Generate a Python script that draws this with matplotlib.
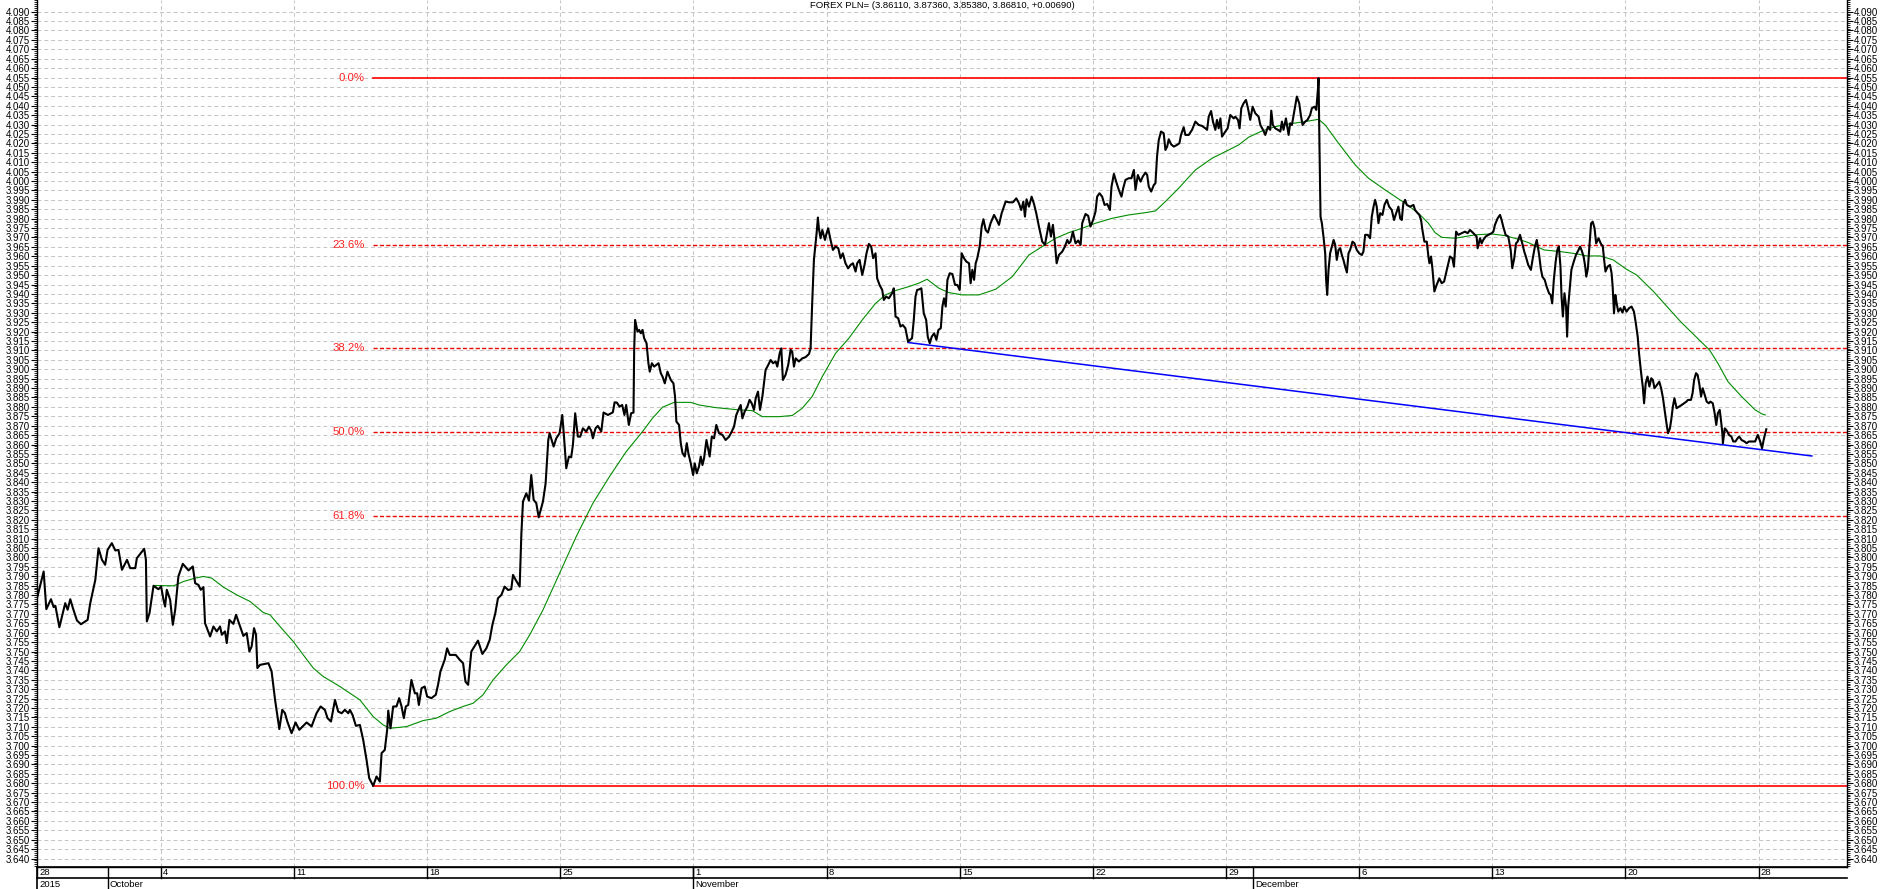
import numpy as np
import matplotlib
matplotlib.use("Agg")
import matplotlib.pyplot as plt
from matplotlib.ticker import MultipleLocator, FormatStrFormatter

plt.rcParams['font.family'] = ['Liberation Sans', 'DejaVu Sans']

# EUR/PLN style hourly closes.
# x = trading day counted from the Monday 28 Sep 2015 session (5 days per week)
seg_early_oct = [
    (0.35, 3.7783), (0.6, 3.7925), (0.7, 3.7725), (0.875, 3.7778), (0.975, 3.7736), (1.04, 3.7743),
    (1.19, 3.7629), (1.41, 3.7757), (1.5, 3.7722), (1.6, 3.7778), (1.7, 3.7730), (1.85, 3.7665),
    (2.0, 3.7645), (2.16, 3.7660), (2.25, 3.7668), (2.35, 3.7757), (2.54, 3.7881), (2.66, 3.8049),
    (2.79, 3.7987), (2.91, 3.7961), (3.0, 3.8040), (3.16, 3.8076), (3.29, 3.8037), (3.41, 3.8040),
    (3.54, 3.7934), (3.73, 3.7987), (3.85, 3.7943), (4.04, 3.7943), (4.1, 3.7996), (4.375, 3.8046),
    (4.44, 3.7987), (4.475, 3.7660), (4.575, 3.7704), (4.725, 3.7849), (4.91, 3.7831), (5.01, 3.7846),
    (5.1, 3.7775), (5.16, 3.7739), (5.225, 3.7828), (5.35, 3.7775), (5.45, 3.7642), (5.54, 3.7722),
    (5.66, 3.7899), (5.825, 3.7966), (6.04, 3.7931), (6.2, 3.7952), (6.29, 3.7863), (6.41, 3.7854),
    (6.5, 3.7828), (6.6, 3.7842), (6.66, 3.7651), (6.85, 3.7580), (6.975, 3.7633), (7.1, 3.7607),
    (7.225, 3.7633), (7.29, 3.7589), (7.41, 3.7607), (7.475, 3.7545), (7.575, 3.7668), (7.725, 3.7647),
    (7.825, 3.7695), (7.975, 3.7633), (8.1, 3.7583), (8.225, 3.7598), (8.325, 3.7500), (8.41, 3.7527),
    (8.5, 3.7624), (8.575, 3.7589), (8.625, 3.7412), (8.725, 3.7429), (9.04, 3.7438), (9.16, 3.7394),
    (9.29, 3.7243), (9.45, 3.7088), (9.56, 3.7190), (9.66, 3.7173), (9.75, 3.7128), (9.91, 3.7066),
    (10.06, 3.7123), (10.2, 3.7084), (10.475, 3.7123), (10.66, 3.7102), (10.85, 3.7173), (11.0, 3.7208),
    (11.16, 3.7190), (11.26, 3.7146), (11.39, 3.7128),
]
seg_late_oct = [
    (11.54, 3.7243), (11.66, 3.7181), (11.79, 3.7172), (11.91, 3.7190), (12.04, 3.7172), (12.1, 3.7190),
    (12.2, 3.7163), (12.325, 3.7105), (12.475, 3.7110), (12.6, 3.7030), (12.725, 3.6924), (12.825, 3.6827),
    (12.975, 3.6786), (13.1, 3.6836), (13.225, 3.6809), (13.29, 3.6960), (13.41, 3.6977), (13.5, 3.7084),
    (13.54, 3.7186), (13.625, 3.7092), (13.725, 3.7208), (13.85, 3.7208), (13.95, 3.7252), (14.04, 3.7208),
    (14.125, 3.7146), (14.2, 3.7208), (14.29, 3.7216), (14.41, 3.7349), (14.54, 3.7278), (14.625, 3.7278),
    (14.69, 3.7216), (14.79, 3.7305), (14.91, 3.7314), (15.0, 3.7261), (15.16, 3.7252), (15.325, 3.7270),
    (15.41, 3.7323), (15.5, 3.7394), (15.66, 3.7456), (15.75, 3.7517), (15.85, 3.7482), (16.075, 3.7482),
    (16.225, 3.7456), (16.35, 3.7438), (16.44, 3.7340), (16.54, 3.7323), (16.66, 3.7500), (16.91, 3.7558),
    (17.075, 3.7487), (17.225, 3.7517), (17.35, 3.7562), (17.45, 3.7641), (17.56, 3.7703), (17.66, 3.7783),
    (17.79, 3.7801), (17.91, 3.7845), (18.04, 3.7827), (18.16, 3.7831), (18.225, 3.7907), (18.325, 3.7881),
    (18.475, 3.7845), (18.54, 3.8128), (18.6, 3.8297), (18.725, 3.8341), (18.825, 3.8302), (18.91, 3.8438),
    (19.0, 3.8306), (19.1, 3.8288), (19.19, 3.8213), (19.35, 3.8297), (19.45, 3.8394), (19.55, 3.8624),
    (19.6, 3.8660), (19.75, 3.8589), (19.85, 3.8633), (19.975, 3.8660), (20.075, 3.8757), (20.14, 3.8642),
    (20.225, 3.8474), (20.325, 3.8536), (20.41, 3.8532), (20.475, 3.8598), (20.56, 3.8766), (20.66, 3.8642),
    (20.75, 3.8642), (20.85, 3.8686), (20.975, 3.8669), (21.075, 3.8695), (21.16, 3.8674), (21.225, 3.8633),
    (21.325, 3.8686), (21.41, 3.8699), (21.54, 3.8669), (21.625, 3.8770), (21.79, 3.8757), (21.975, 3.8771),
    (22.04, 3.8824), (22.125, 3.8823), (22.225, 3.8801), (22.325, 3.8810), (22.41, 3.8757), (22.475, 3.8810),
    (22.575, 3.8704), (22.66, 3.8766), (22.75, 3.8770),
]
seg_nov_a = [
    (22.775, 3.9103), (22.81, 3.9262), (22.9, 3.9200), (22.96, 3.9209), (23.025, 3.9191), (23.09, 3.9209),
    (23.15, 3.9165), (23.24, 3.9138), (23.31, 3.9032), (23.36, 3.8987), (23.44, 3.9032), (23.525, 3.9014),
    (23.61, 3.9023), (23.69, 3.9032), (23.775, 3.8979), (23.84, 3.8961), (23.925, 3.8925), (24.025, 3.8987),
    (24.15, 3.8943), (24.25, 3.8925), (24.31, 3.8855), (24.36, 3.8722), (24.46, 3.8704), (24.525, 3.8607),
    (24.59, 3.8554), (24.675, 3.8536), (24.75, 3.8607), (24.81, 3.8554), (24.9, 3.8500), (24.99, 3.8438),
    (25.05, 3.8500), (25.125, 3.8447), (25.21, 3.8483), (25.275, 3.8536), (25.34, 3.8491), (25.4, 3.8527),
    (25.49, 3.8624), (25.56, 3.8571), (25.61, 3.8536), (25.69, 3.8642), (25.775, 3.8633), (25.86, 3.8704),
    (25.96, 3.8660), (26.09, 3.8651), (26.21, 3.8624), (26.34, 3.8642), (26.44, 3.8669), (26.525, 3.8695),
    (26.61, 3.8757), (26.69, 3.8784), (26.775, 3.8810), (26.84, 3.8739), (26.925, 3.8775), (27.025, 3.8801),
    (27.11, 3.8837), (27.19, 3.8819), (27.275, 3.8784), (27.34, 3.8846), (27.425, 3.8881), (27.5, 3.8784),
    (27.59, 3.8855), (27.65, 3.8925), (27.71, 3.8996), (27.81, 3.9023), (27.9, 3.9049), (27.99, 3.9032),
    (28.09, 3.9041), (28.15, 3.9014), (28.24, 3.9085), (28.3, 3.9111), (28.36, 3.8943), (28.46, 3.8970),
    (28.56, 3.9023), (28.65, 3.9103), (28.71, 3.9094), (28.775, 3.9014), (28.84, 3.9058), (28.96, 3.9041),
    (29.09, 3.9058), (29.21, 3.9064), (29.34, 3.9081), (29.4, 3.9111), (29.46, 3.9350), (29.525, 3.9581),
    (29.59, 3.9669), (29.625, 3.9722), (29.675, 3.9806), (29.71, 3.9749), (29.775, 3.9696), (29.84, 3.9740),
    (29.94, 3.9687), (30.0, 3.9722), (30.06, 3.9749), (30.15, 3.9687), (30.24, 3.9634), (30.34, 3.9652),
    (30.44, 3.9643), (30.525, 3.9590), (30.61, 3.9616), (30.71, 3.9563), (30.81, 3.9536), (30.9, 3.9554),
    (30.99, 3.9563), (31.09, 3.9519), (31.15, 3.9563), (31.24, 3.9581), (31.34, 3.9501), (31.425, 3.9554),
    (31.5, 3.9616), (31.59, 3.9666), (31.675, 3.9652), (31.75, 3.9590), (31.84, 3.9616), (31.9, 3.9483),
    (31.99, 3.9448), (32.09, 3.9421), (32.15, 3.9368), (32.24, 3.9386), (32.34, 3.9377), (32.46, 3.9404),
    (32.525, 3.9430), (32.59, 3.9280), (32.69, 3.9271), (32.775, 3.9227), (32.86, 3.9235), (32.96, 3.9218),
    (33.06, 3.9147), (33.21, 3.9165), (33.275, 3.9262), (33.34, 3.9386), (33.4, 3.9421), (33.49, 3.9425),
    (33.56, 3.9430), (33.65, 3.9297), (33.74, 3.9262), (33.8, 3.9173), (33.875, 3.9138),
]
seg_nov_b = [
    (33.95, 3.9173), (34.04, 3.9191), (34.125, 3.9156), (34.2, 3.9209), (34.29, 3.9218), (34.35, 3.9333),
    (34.41, 3.9377), (34.475, 3.9333), (34.54, 3.9475), (34.625, 3.9510), (34.725, 3.9506), (34.825, 3.9448),
    (34.91, 3.9448), (35.0, 3.9421), (35.075, 3.9616), (35.16, 3.9590), (35.25, 3.9572), (35.35, 3.9563),
    (35.41, 3.9457), (35.475, 3.9528), (35.54, 3.9475), (35.6, 3.9563), (35.66, 3.9590), (35.75, 3.9652),
    (35.825, 3.9758), (35.89, 3.9797), (35.975, 3.9740), (36.06, 3.9726), (36.16, 3.9776), (36.29, 3.9820),
    (36.39, 3.9793), (36.475, 3.9767), (36.575, 3.9829), (36.66, 3.9864), (36.725, 3.9891), (36.85, 3.9887),
    (37.0, 3.9887), (37.125, 3.9908), (37.225, 3.9882), (37.31, 3.9846), (37.39, 3.9891), (37.45, 3.9811),
    (37.51, 3.9903), (37.6, 3.9864), (37.7, 3.9917), (37.79, 3.9878), (37.875, 3.9829), (37.975, 3.9758),
    (38.1, 3.9678), (38.2, 3.9661), (38.29, 3.9731), (38.35, 3.9776), (38.425, 3.9705), (38.5, 3.9767),
    (38.575, 3.9669), (38.64, 3.9563), (38.725, 3.9607), (38.85, 3.9625), (38.95, 3.9652), (39.04, 3.9687),
    (39.1, 3.9669), (39.16, 3.9678), (39.25, 3.9731), (39.35, 3.9669), (39.45, 3.9684), (39.54, 3.9661),
    (39.6, 3.9776), (39.725, 3.9825), (39.825, 3.9815), (39.91, 3.9758), (40.01, 3.9793), (40.1, 3.9838),
    (40.16, 3.9917), (40.25, 3.9935), (40.35, 3.9917), (40.44, 3.9873), (40.54, 3.9878), (40.64, 3.9846),
    (40.7, 3.9970), (40.79, 4.0038), (40.875, 3.9997), (40.975, 3.9953), (41.075, 3.9917), (41.14, 3.9962),
    (41.225, 4.0006), (41.35, 4.0015), (41.45, 4.0015), (41.54, 4.0059), (41.6, 3.9953), (41.69, 4.0032),
    (41.79, 3.9997), (41.875, 4.0024), (41.975, 4.0045), (42.04, 4.0032), (42.1, 3.9970), (42.19, 3.9944),
    (42.29, 3.9979), (42.35, 3.9988), (42.41, 4.0130), (42.475, 4.0218), (42.56, 4.0263), (42.66, 4.0254),
    (42.725, 4.0165), (42.79, 4.0183), (42.85, 4.0222), (42.94, 4.0195), (43.04, 4.0183), (43.16, 4.0192),
    (43.25, 4.0201), (43.31, 4.0245), (43.41, 4.0286), (43.475, 4.0245), (43.6, 4.0245), (43.725, 4.0272),
    (43.85, 4.0316), (43.975, 4.0298), (44.1, 4.0293), (44.225, 4.0280), (44.29, 4.0272), (44.35, 4.0342),
    (44.44, 4.0372), (44.51, 4.0316), (44.6, 4.0272), (44.66, 4.0325), (44.725, 4.0280), (44.79, 4.0333),
    (44.85, 4.0236), (44.975, 4.0263), (45.06, 4.0280), (45.16, 4.0351), (45.29, 4.0333),
]
seg_dec_a = [
    (45.35, 4.0342), (45.45, 4.0325), (45.51, 4.0280), (45.575, 4.0387), (45.66, 4.0413), (45.75, 4.0431),
    (45.825, 4.0387), (45.91, 4.0325), (46.0, 4.0395), (46.1, 4.0360), (46.225, 4.0342), (46.29, 4.0298),
    (46.39, 4.0272), (46.475, 4.0245), (46.575, 4.0289), (46.66, 4.0272), (46.7, 4.0374), (46.76, 4.0298),
    (46.85, 4.0280), (46.95, 4.0272), (47.04, 4.0263), (47.1, 4.0316), (47.16, 4.0272), (47.25, 4.0333),
    (47.35, 4.0245), (47.41, 4.0307), (47.475, 4.0298), (47.56, 4.0369), (47.66, 4.0449), (47.75, 4.0413),
    (47.81, 4.0351), (47.875, 4.0298), (47.975, 4.0316), (48.06, 4.0325), (48.16, 4.0351), (48.225, 4.0387),
    (48.325, 4.0395), (48.39, 4.0378), (48.45, 4.0484), (48.475, 4.0547), (48.51, 4.0183), (48.55, 3.9811),
    (48.6, 3.9776), (48.66, 3.9705), (48.725, 3.9616), (48.76, 3.9475), (48.8, 3.9395), (48.85, 3.9528),
    (48.91, 3.9616), (48.975, 3.9652), (49.04, 3.9687), (49.1, 3.9661), (49.16, 3.9581), (49.225, 3.9634),
    (49.29, 3.9643), (49.35, 3.9607), (49.41, 3.9581), (49.475, 3.9545), (49.54, 3.9514), (49.6, 3.9616),
    (49.66, 3.9634), (49.75, 3.9678), (49.825, 3.9669), (49.91, 3.9634), (50.0, 3.9616), (50.1, 3.9607),
    (50.16, 3.9625), (50.225, 3.9714), (50.325, 3.9714), (50.41, 3.9696), (50.475, 3.9811), (50.54, 3.9864),
    (50.6, 3.9900), (50.66, 3.9864), (50.725, 3.9776), (50.79, 3.9829), (50.875, 3.9820), (50.95, 3.9873),
    (51.04, 3.9900), (51.125, 3.9864), (51.225, 3.9846), (51.31, 3.9793), (51.39, 3.9829), (51.475, 3.9864),
    (51.54, 3.9802), (51.6, 3.9793), (51.66, 3.9882), (51.725, 3.9900), (51.79, 3.9873), (51.91, 3.9864),
    (52.04, 3.9873), (52.1, 3.9846), (52.2, 3.9829), (52.26, 3.9820), (52.325, 3.9793), (52.375, 3.9740),
    (52.45, 3.9678), (52.54, 3.9678), (52.6, 3.9599), (52.64, 3.9563), (52.7, 3.9599), (52.75, 3.9537),
    (52.825, 3.9413), (52.91, 3.9448), (53.01, 3.9483), (53.1, 3.9457), (53.19, 3.9466), (53.29, 3.9528),
    (53.35, 3.9563), (53.41, 3.9599), (53.5, 3.9590), (53.56, 3.9545), (53.64, 3.9731), (53.725, 3.9714),
    (53.85, 3.9723), (53.975, 3.9731), (54.075, 3.9723), (54.16, 3.9740), (54.29, 3.9723), (54.41, 3.9705),
    (54.45, 3.9643), (54.54, 3.9696), (54.6, 3.9669), (54.66, 3.9687), (54.75, 3.9705), (54.85, 3.9714),
    (54.975, 3.9723), (55.04, 3.9731), (55.1, 3.9767), (55.2, 3.9802), (55.29, 3.9820), (55.35, 3.9793),
    (55.41, 3.9758), (55.5, 3.9714), (55.6, 3.9705), (55.69, 3.9634), (55.75, 3.9537), (55.825, 3.9590),
    (55.89, 3.9669), (55.95, 3.9678), (56.04, 3.9714), (56.125, 3.9669), (56.2, 3.9625), (56.26, 3.9599),
    (56.35, 3.9554),
]
seg_dec_b = [
    (56.45, 3.9528), (56.51, 3.9581), (56.6, 3.9652), (56.67, 3.9687), (56.76, 3.9607), (56.82, 3.9536),
    (56.88, 3.9492), (56.97, 3.9474), (57.04, 3.9439), (57.13, 3.9404), (57.19, 3.9395), (57.25, 3.9350),
    (57.31, 3.9474), (57.38, 3.9572), (57.44, 3.9634), (57.5, 3.9652), (57.56, 3.9545), (57.6, 3.9386),
    (57.65, 3.9280), (57.71, 3.9404), (57.77, 3.9333), (57.81, 3.9173), (57.85, 3.9333), (57.91, 3.9430),
    (57.97, 3.9528), (58.06, 3.9572), (58.14, 3.9607), (58.24, 3.9634), (58.3, 3.9652), (58.37, 3.9625),
    (58.43, 3.9598), (58.49, 3.9545), (58.53, 3.9492), (58.59, 3.9536), (58.65, 3.9660), (58.71, 3.9775),
    (58.77, 3.9784), (58.84, 3.9749), (58.9, 3.9669), (58.99, 3.9696), (59.07, 3.9669), (59.15, 3.9652),
    (59.2, 3.9581), (59.25, 3.9519), (59.33, 3.9545), (59.42, 3.9554), (59.48, 3.9510), (59.52, 3.9439),
    (59.57, 3.9297), (59.62, 3.9395), (59.67, 3.9350), (59.73, 3.9306), (59.81, 3.9324), (59.89, 3.9301),
    (59.95, 3.9333), (60.04, 3.9306), (60.13, 3.9324), (60.23, 3.9333), (60.32, 3.9306), (60.39, 3.9244),
    (60.46, 3.9173), (60.51, 3.9085), (60.59, 3.8979), (60.65, 3.8908), (60.7, 3.8819), (60.76, 3.8925),
    (60.83, 3.8961), (60.9, 3.8908), (60.97, 3.8952), (61.03, 3.8943), (61.09, 3.8899), (61.18, 3.8916),
    (61.27, 3.8934), (61.34, 3.8899), (61.41, 3.8846), (61.48, 3.8775), (61.54, 3.8713), (61.6, 3.8660),
    (61.67, 3.8686), (61.72, 3.8731), (61.78, 3.8801), (61.84, 3.8846), (61.92, 3.8793), (62.01, 3.8801),
    (62.11, 3.8810), (62.2, 3.8819), (62.29, 3.8828), (62.35, 3.8837), (62.46, 3.8837), (62.52, 3.8872),
    (62.58, 3.8943), (62.65, 3.8979), (62.71, 3.8970), (62.77, 3.8925), (62.84, 3.8855), (62.9, 3.8899),
    (62.96, 3.8872), (63.05, 3.8828), (63.13, 3.8819), (63.19, 3.8828), (63.28, 3.8819), (63.35, 3.8766),
    (63.41, 3.8704), (63.47, 3.8766), (63.54, 3.8784), (63.6, 3.8713), (63.64, 3.8660), (63.66, 3.8607),
    (63.73, 3.8686), (63.79, 3.8677), (63.89, 3.8651), (63.98, 3.8642), (64.05, 3.8616), (64.13, 3.8616),
    (64.21, 3.8633), (64.27, 3.8642), (64.36, 3.8624), (64.47, 3.8616), (64.55, 3.8607), (64.64, 3.8616),
    (64.75, 3.8616), (64.87, 3.8616), (64.97, 3.8651), (65.06, 3.8616), (65.13, 3.8580), (65.19, 3.8624),
    (65.25, 3.8660), (65.29, 3.8681),
]

# green moving average, read at a coarser step
ma_points = [
    (4.725, 3.7851), (5.475, 3.7849), (5.85, 3.7872), (6.29, 3.7890), (6.6, 3.7899), (6.91, 3.7890),
    (7.35, 3.7842), (7.85, 3.7801), (8.35, 3.7766), (8.85, 3.7707), (9.1, 3.7695), (9.475, 3.7633),
    (9.975, 3.7553), (10.35, 3.7482), (10.725, 3.7412), (11.1, 3.7367), (11.725, 3.7314), (12.475, 3.7243),
    (12.975, 3.7154), (13.35, 3.7110), (13.6, 3.7092), (14.225, 3.7101), (14.85, 3.7133), (15.35, 3.7146),
    (15.85, 3.7181), (16.35, 3.7208), (16.725, 3.7225), (17.1, 3.7270), (17.475, 3.7349), (17.975, 3.7429),
    (18.475, 3.7500), (18.85, 3.7588), (19.35, 3.7721), (19.975, 3.7916), (20.6, 3.8111), (21.225, 3.8288),
    (21.85, 3.8430), (22.475, 3.8562), (23.09, 3.8669), (23.46, 3.8739), (23.84, 3.8798), (24.275, 3.8824),
    (24.9, 3.8824), (25.21, 3.8810), (25.84, 3.8796), (26.71, 3.8784), (27.21, 3.8780), (27.59, 3.8748),
    (28.21, 3.8748), (28.71, 3.8754), (29.09, 3.8793), (29.46, 3.8855), (29.84, 3.8961), (30.34, 3.9085),
    (30.84, 3.9165), (31.34, 3.9262), (31.84, 3.9350), (32.21, 3.9395), (32.59, 3.9418), (33.09, 3.9439),
    (33.46, 3.9457), (33.775, 3.9478), (34.225, 3.9430), (34.6, 3.9407), (35.1, 3.9395), (35.725, 3.9395),
    (36.35, 3.9425), (36.975, 3.9492), (37.6, 3.9607), (38.1, 3.9652), (38.6, 3.9696), (39.1, 3.9726),
    (39.6, 3.9749), (40.1, 3.9776), (40.725, 3.9802), (41.35, 3.9820), (41.975, 3.9832), (42.35, 3.9841),
    (42.725, 3.9891), (43.225, 3.9962), (43.85, 4.0059), (44.475, 4.0121), (45.1, 4.0165), (45.475, 4.0192),
    (45.85, 4.0233), (46.35, 4.0266), (46.85, 4.0289), (47.35, 4.0303), (47.975, 4.0316), (48.475, 4.0328),
    (48.725, 4.0298), (49.225, 4.0201), (49.85, 4.0086), (50.35, 4.0015), (50.975, 3.9953), (51.725, 3.9882),
    (52.225, 3.9829), (52.6, 3.9776), (52.85, 3.9726), (53.1, 3.9701), (53.6, 3.9696), (54.35, 3.9714),
    (54.975, 3.9719), (55.475, 3.9710), (55.975, 3.9691), (56.35, 3.9673), (56.94, 3.9634), (57.56, 3.9625),
    (58.18, 3.9613), (58.55, 3.9602), (59.05, 3.9602), (59.54, 3.9581), (60.04, 3.9531), (60.42, 3.9501),
    (61.06, 3.9412), (61.56, 3.9333), (62.07, 3.9253), (62.71, 3.9164), (63.16, 3.9102), (63.47, 3.9032),
    (63.85, 3.8934), (64.36, 3.8855), (64.87, 3.8784), (65.13, 3.8762), (65.25, 3.8757),
]

trend_days = [33.06, 67.0]
trend_vals = [3.9142, 3.8539]

fib_ratios = [0.0, 0.236, 0.382, 0.5, 0.618, 1.0]
fib_labels = ['0.0%', '23.6%', '38.2%', '50.0%', '61.8%', '100.0%']

week_days = [0, 5, 10, 15, 20, 25, 30, 35, 40, 45, 50, 55, 60, 65]
week_labels = ['28', '4', '11', '18', '25', '1', '8', '15', '22', '29', '6', '13', '20', '28']
month_days = [3, 25, 46]
month_labels = ['October', 'November', 'December']
year_label = '2015'
title = 'FOREX PLN= (3.86110, 3.87360, 3.85380, 3.86810, +0.00690)'

X_MIN, X_MAX = 0.35, 68.32
Y_MIN, Y_MAX = 3.6355, 4.0962
LABEL_LO, LABEL_HI = 3.640, 4.090

W, H = 1883, 889
fig = plt.figure(figsize=(W / 100, H / 100), dpi=100)
ax_l, ax_r = 37 / W, 1847 / W
strip_h = 22 / H
ax = fig.add_axes([ax_l, strip_h, ax_r - ax_l, 1 - strip_h])

segments = [seg_early_oct, seg_late_oct, seg_nov_a, seg_nov_b, seg_dec_a, seg_dec_b]
days = np.array([p[0] for s in segments for p in s])
vals = np.array([p[1] for s in segments for p in s])

# fibonacci retracement from the October low to the December high
hi, lo = vals.max(), vals.min()
lo_day = days[vals.argmin()]
for r, lab in zip(fib_ratios, fib_labels):
    lvl = hi - r * (hi - lo)
    if r in (0.0, 1.0):
        ax.plot([lo_day, X_MAX], [lvl, lvl], color='#ff0000', lw=1.2, zorder=2)
    else:
        ax.plot([lo_day, X_MAX], [lvl, lvl], color='#ee0000', lw=1.0,
                ls=(0, (3, 1.6)), zorder=2)
    ax.annotate(lab, xy=(lo_day, lvl), xytext=(-6, 0), textcoords='offset points',
                ha='right', va='center', color='#ff2020', fontsize=8.2)

ax.plot([p[0] for p in ma_points], [p[1] for p in ma_points], color='#008c00', lw=0.8, zorder=3)
ax.plot(trend_days, trend_vals, color='#0000ff', lw=1.1, zorder=3)
ax.plot(days, vals, color='black', lw=1.5, zorder=4)

ax.set_xlim(X_MIN, X_MAX)
ax.set_ylim(Y_MIN, Y_MAX)

ax.set_yticks(np.round(np.arange(LABEL_LO, LABEL_HI + 0.0001, 0.005), 3))
ax.yaxis.set_minor_locator(MultipleLocator(0.001))
ax.yaxis.set_major_formatter(FormatStrFormatter('%.3f'))
ax.tick_params(axis='y', which='both', left=True, right=True, labelleft=True, labelright=True,
               direction='out', labelsize=7, pad=1, colors='black')
ax.tick_params(axis='y', which='major', length=4, width=0.8)
ax.tick_params(axis='y', which='minor', length=2, width=0.6)

ax.set_xticks(week_days[1:])
ax.tick_params(axis='x', which='both', bottom=False, labelbottom=False)
ax.grid(True, axis='both', which='major', color='#c4c4c4', ls=(0, (4, 3)), lw=0.7)
ax.set_axisbelow(True)

for side in ['left', 'right', 'bottom']:
    ax.spines[side].set_color('black')
    ax.spines[side].set_linewidth(1.0)
ax.spines['top'].set_visible(False)

ax.text((X_MIN + X_MAX) / 2, Y_MAX - 0.0028, title, ha='center', va='center', fontsize=6.8)

# date strip under the chart
axd = fig.add_axes([ax_l, 0, ax_r - ax_l, strip_h])
axd.set_xlim(X_MIN, X_MAX)
axd.set_ylim(0, 2)
axd.axis('off')
axd.plot([X_MIN, X_MAX], [2, 2], color='black', lw=1.2, clip_on=False)
axd.plot([X_MIN, X_MAX], [1, 1], color='black', lw=1.2, clip_on=False)
axd.plot([X_MIN, X_MIN], [0, 2], color='black', lw=1.2, clip_on=False)
for d, lab in zip(week_days, week_labels):
    x = max(d, X_MIN)
    axd.plot([x, x], [1, 2], color='black', lw=1.0, clip_on=False)
    axd.text(x + 0.08, 1.5, lab, ha='left', va='center', fontsize=6.8)
for d, lab in zip(month_days, month_labels):
    axd.plot([d, d], [0, 2], color='black', lw=1.0, clip_on=False)
    axd.text(d + 0.08, 0.45, lab, ha='left', va='center', fontsize=6.8)
axd.text(X_MIN + 0.08, 0.45, year_label, ha='left', va='center', fontsize=6.8)

fig.savefig('out.png', dpi=100)
